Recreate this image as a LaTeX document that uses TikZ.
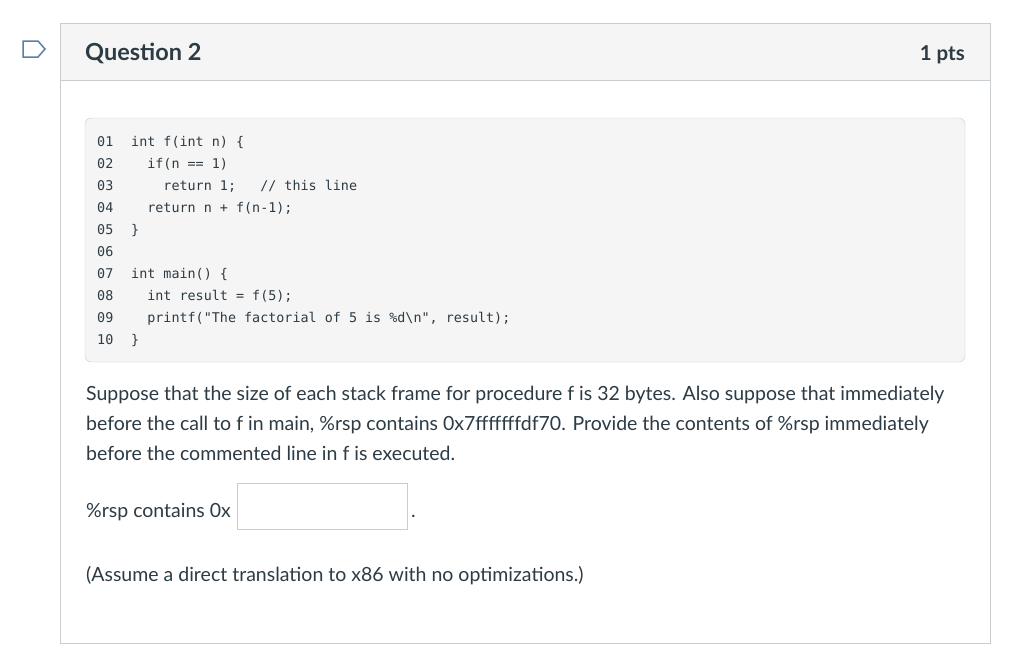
\documentclass[tikz,border=0pt]{standalone}
\usepackage{fontspec}
\setmainfont{Lato}
\setmonofont{DejaVu Sans Mono}
\definecolor{hdr}{HTML}{F5F5F5}
\definecolor{brd}{HTML}{C7CDD1}
\definecolor{txt}{HTML}{2D3B45}
\definecolor{icon}{HTML}{5B7DA7}
\begin{document}
\begin{tikzpicture}[x=1pt,y=-1pt,
  code/.style={anchor=base west,inner sep=0,font=\ttfamily\fontsize{13.4}{15}\selectfont,text=txt},
  para/.style={anchor=base west,inner sep=0,font=\fontsize{19.5}{22}\selectfont,text=txt}]
\useasboundingbox (0,0) rectangle (1023,672);
\fill[white] (0,0) rectangle (1023,672);
\draw[icon,line width=1.5pt] (23,41) -- (38,41) -- (45,49) -- (38,57) -- (23,57) -- cycle;
\draw[brd,fill=white] (60,23) rectangle (990,643);
\draw[brd,fill=hdr] (60,23) rectangle (990,80);
\node[anchor=base west,inner sep=0,font=\bfseries\fontsize{23.5}{26}\selectfont,text=txt] (title) at (85,60) {Question 2};
\node[anchor=base east,inner sep=0,font=\bfseries\fontsize{20.5}{23}\selectfont,text=txt] (pts) at (965,60) {1 pts};
\draw[brd,fill=hdr,rounded corners=6pt] (85,118) rectangle (965,362);
\foreach \n/\c [count=\i] in {01/{int f(int n) \{},02/{\ \ if(n == 1)},03/{\ \ \ \ return 1;\ \ \ // this line},04/{\ \ return n + f(n-1);},05/{\}},06/{},07/{int main() \{},08/{\ \ int result = f(5);},09/{\ \ printf("The factorial of 5 is \%d\textbackslash n", result);},10/{\}}}{
  \node[code] (n\i) at (97,{124+22*\i}) {\n};
  \node[code] (c\i) at (131,{124+22*\i}) {\c};
}
\node[para] (p1) at (86,400) {Suppose that the size of each stack frame for procedure f is 32 bytes. Also suppose that immediately};
\node[para] (p2) at (86,430) {before the call to f in main, \%rsp contains 0x7fffffffdf70. Provide the contents of \%rsp immediately};
\node[para] (p3) at (86,460) {before the commented line in f is executed.};
\node[para] (p4) at (86,517) {\%rsp contains 0x};
\draw[brd,fill=white] (237,483) rectangle (407,529);
\node[para] (dot) at (411,517) {.};
\node[para] (p5) at (86,581) {(Assume a direct translation to x86 with no optimizations.)};
\end{tikzpicture}
\end{document}
